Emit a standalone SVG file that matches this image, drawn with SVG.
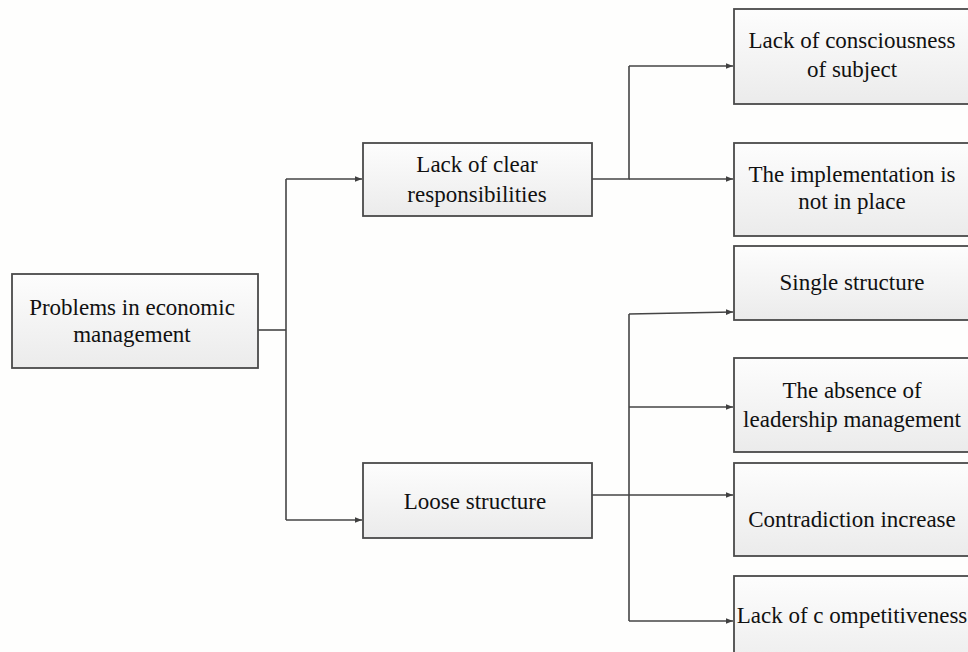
<svg xmlns="http://www.w3.org/2000/svg" width="968" height="652" viewBox="0 0 968 652">
<defs>
<linearGradient id="g" x1="0" y1="0" x2="0" y2="1">
<stop offset="0" stop-color="#fdfdfd"/>
<stop offset="1" stop-color="#ebebeb"/>
</linearGradient>
<marker id="arr" viewBox="0 0 10 10" refX="10" refY="5" markerWidth="7" markerHeight="7" markerUnits="userSpaceOnUse" orient="auto">
<path d="M0,1 L10,5 L0,9 Z" fill="#404040"/>
</marker>
<style>
.box{fill:url(#g);stroke:#4a4a4a;stroke-width:1.8}
.t{font-family:"Liberation Serif","Times New Roman",serif;font-size:23px;fill:#111;text-anchor:middle}
.c{fill:none;stroke:#454545;stroke-width:1.6}
.a{marker-end:url(#arr)}
</style>
</defs>
<rect width="968" height="652" fill="#fefefd"/>
<g id="connectors">
<path class="c" d="M258,330 H286"/>
<path class="c" d="M286,179 V520"/>
<path class="c a" d="M286,179 H362"/>
<path class="c a" d="M286,520 H362"/>
<path class="c" d="M592,179 H629 V66"/>
<path class="c a" d="M629,66 H733"/>
<path class="c a" d="M629,179 H733"/>
<path class="c a" d="M592,495 H733"/>
<path class="c" d="M629,314 V621"/>
<path class="c a" d="M629,314 L733,312"/>
<path class="c a" d="M629,407 H733"/>
<path class="c a" d="M629,621 H733"/>
</g>
<g id="root">
<rect class="box" x="12" y="274" width="246" height="94"/>
<text class="t" x="132" y="315">Problems in economic</text>
<text class="t" x="132" y="342">management</text>
</g>
<g id="lack-clear">
<rect class="box" x="363" y="143" width="229" height="73"/>
<text class="t" x="477" y="172">Lack of clear</text>
<text class="t" x="477" y="202">responsibilities</text>
</g>
<g id="loose">
<rect class="box" x="363" y="463" width="229" height="75"/>
<text class="t" x="475" y="509">Loose structure</text>
</g>
<g id="consciousness">
<rect class="box" x="734" y="9" width="250" height="95"/>
<text class="t" x="852" y="48">Lack of consciousness</text>
<text class="t" x="852" y="77">of subject</text>
</g>
<g id="implementation">
<rect class="box" x="734" y="143" width="250" height="93"/>
<text class="t" x="852" y="182">The implementation is</text>
<text class="t" x="852" y="209">not in place</text>
</g>
<g id="single">
<rect class="box" x="734" y="246" width="250" height="74"/>
<text class="t" x="852" y="290">Single structure</text>
</g>
<g id="absence">
<rect class="box" x="734" y="358" width="250" height="94"/>
<text class="t" x="852" y="398">The absence of</text>
<text class="t" x="852" y="427">leadership management</text>
</g>
<g id="contradiction">
<rect class="box" x="734" y="463" width="250" height="93"/>
<text class="t" x="852" y="527">Contradiction increase</text>
</g>
<g id="competitiveness">
<rect class="box" x="734" y="576" width="250" height="100"/>
<text class="t" x="852" y="623">Lack of c ompetitiveness</text>
</g>
</svg>
